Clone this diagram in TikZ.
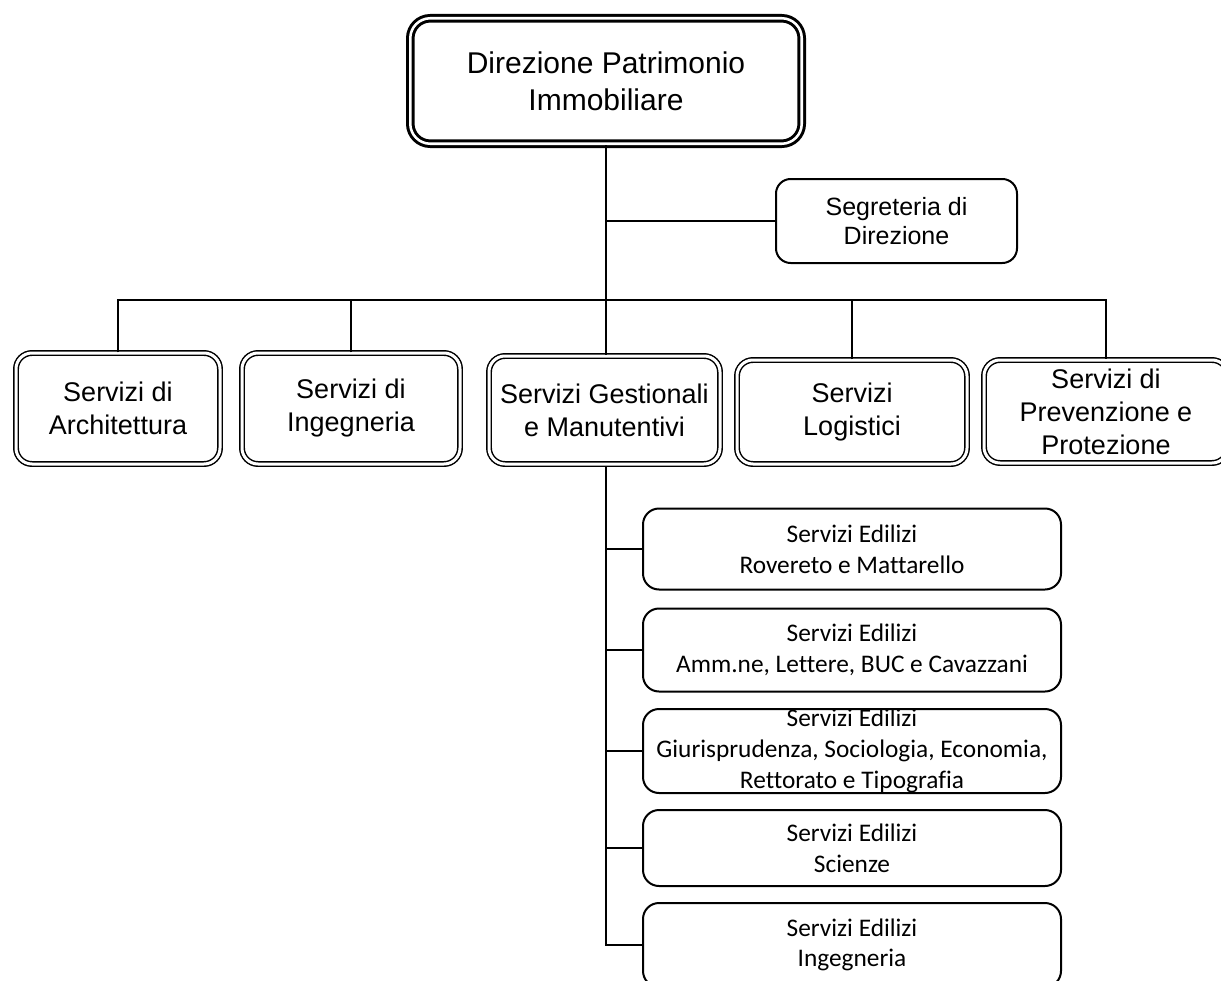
\documentclass[tikz,border=0pt]{standalone}
\usepackage{fontspec}
\setmainfont{Liberation Sans}
\newfontfamily\calibri[Ligatures={NoCommon}]{Carlito}
\tikzset{
  topbox/.style={draw, double, line width=2.25pt, double distance=1.9pt,
    rounded corners=15pt, align=center, inner sep=0pt,
    font=\fontsize{22.5}{28}\selectfont},
  servbox/.style={draw, double, line width=1.1pt, double distance=2.25pt,
    rounded corners=12pt, align=center, inner sep=0pt,
    font=\fontsize{20.25}{24.75}\selectfont},
  segbox/.style={draw, line width=1.5pt, rounded corners=11pt,
    align=center, inner sep=0pt, minimum width=180.75pt, minimum height=63pt,
    font=\fontsize{18.75}{22}\selectfont},
  edilbox/.style={draw, line width=1.5pt, rounded corners=12pt,
    align=center, inner sep=0pt, minimum width=313.5pt,
    font=\calibri\fontsize{19}{23}\selectfont},
  conn/.style={line width=1.5pt}
}

\begin{document}
\begin{tikzpicture}[x=0.75pt,y=-0.75pt]
\useasboundingbox (0,0) rectangle (1221,981);

\node[topbox, minimum width=293.6pt, minimum height=94.1pt] (dir) at (606,81)
  {Direzione Patrimonio\\Immobiliare};
\node[segbox] (segr) at (896.5,221) {Segreteria di\\Direzione};

\node[servbox, minimum width=153pt, minimum height=83.25pt] (arch) at (118,408.5)
  {Servizi di\\Architettura};
\node[servbox, minimum width=163.5pt, minimum height=83.25pt] (inge) at (351,408.5)
  {Servizi di\\Ingegneria};
\node[servbox, minimum width=173.25pt, minimum height=81pt] (gest) at (604.5,410)
  {Servizi Gestionali\\e Manutentivi};
\node[servbox, minimum width=172.5pt, minimum height=78pt] (logi) at (852,412)
  {Servizi\\Logistici};
\node[servbox, minimum width=183pt, minimum height=77.25pt] (prev) at (1106,411.5)
  {Servizi di\\Prevenzione e\\Protezione};

\node[edilbox, minimum height=60.75pt] (rov) at (852,549)
  {Servizi Edilizi\\Rovereto e Mattarello};
\node[edilbox, minimum height=62.25pt] (amm) at (852,650)
  {Servizi Edilizi\\Amm.ne, Lettere, BUC e Cavazzani};
\node[edilbox, minimum height=63pt] (giur) at (852,751)
  {Servizi Edilizi\\Giurisprudenza, Sociologia, Economia,\\Rettorato e Tipografia};
\node[edilbox, minimum height=57pt] (sci) at (852,848)
  {Servizi Edilizi\\Scienze};
\node[edilbox, minimum height=63pt] (ing) at (852,945)
  {Servizi Edilizi\\Ingegneria};

\coordinate (bus) at (606,300);
\coordinate (sub) at (606,467);

% direzione e segreteria
\draw[conn] (dir.south) -- (bus);
\draw[conn] (dir.south |- segr.west) -- (segr.west);

% servizi
\draw[conn] (arch.north) |- (bus) -| (prev.north);
\draw[conn] (inge.north) -- (inge.north |- bus);
\draw[conn] (bus) -- (bus |- gest.north);
\draw[conn] (logi.north) -- (logi.north |- bus);

% servizi edilizi
\draw[conn] (sub) |- (ing.west);
\draw[conn] (sub |- rov.west) -- (rov.west);
\draw[conn] (sub |- amm.west) -- (amm.west);
\draw[conn] (sub |- giur.west) -- (giur.west);
\draw[conn] (sub |- sci.west) -- (sci.west);
\end{tikzpicture}
\end{document}
